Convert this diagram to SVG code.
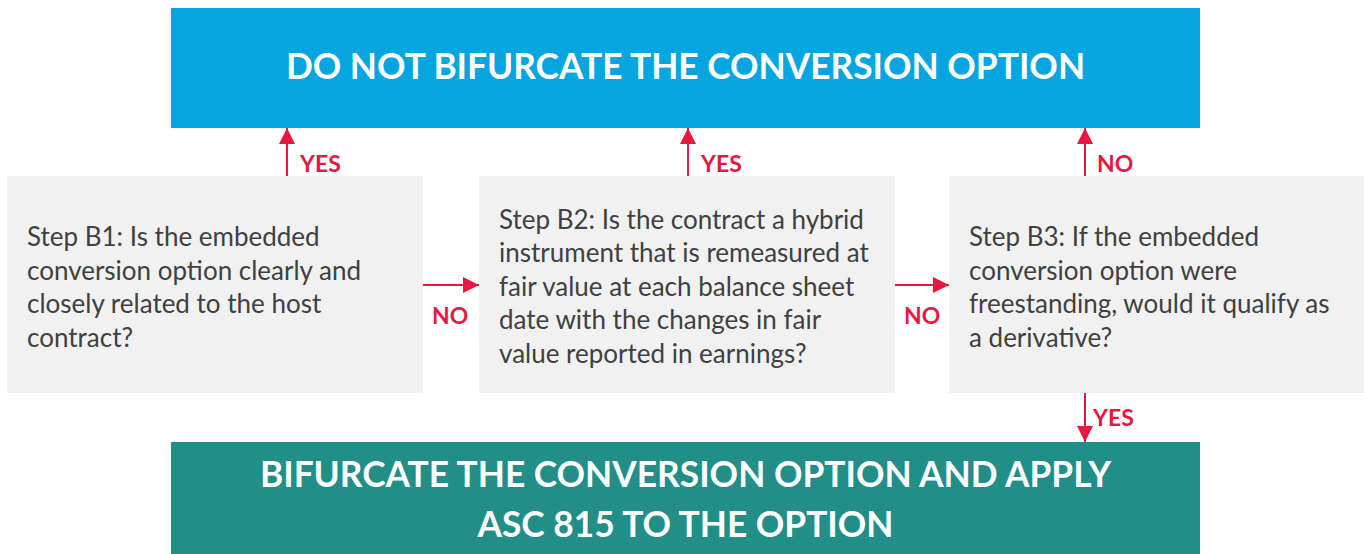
<svg xmlns="http://www.w3.org/2000/svg" width="1364" height="554" viewBox="0 0 1364 554">
<defs>
<style>
.step{fill:#F1F1F1}
.body{font-family:Lato,"Open Sans",sans-serif;font-size:26px;fill:#404040}
.head{font-family:Lato,"Open Sans",sans-serif;font-weight:bold;font-size:35.3px;fill:#FFFFFF;text-anchor:middle}
.lbl{font-family:Lato,"Open Sans",sans-serif;font-weight:bold;font-size:23px;fill:#E8173F}
.conn{stroke:#E8173F;stroke-width:2;fill:none}
</style>
<marker id="ah" viewBox="0 0 16 16" refX="16" refY="8" markerWidth="16" markerHeight="16" markerUnits="userSpaceOnUse" orient="auto">
<path d="M0,0 L16,8 L0,16 Z" fill="#E8173F"/>
</marker>
</defs>
<rect width="1364" height="554" fill="#FFFFFF"/>
<g id="top">
<rect x="171" y="8" width="1029" height="120" fill="#05A5E0"/>
<text class="head" x="685.5" y="79">DO NOT BIFURCATE THE CONVERSION OPTION</text>
</g>
<g id="bottom">
<rect x="171" y="442" width="1029" height="112" fill="#218E87"/>
<text class="head" x="685.5" y="487">BIFURCATE THE CONVERSION OPTION AND APPLY</text>
<text class="head" x="685.5" y="537">ASC 815 TO THE OPTION</text>
</g>
<g id="b1">
<rect class="step" x="7" y="176" width="416" height="217"/>
<text class="body" x="27" y="246">Step B1: Is the embedded</text>
<text class="body" x="27" y="280">conversion option clearly and</text>
<text class="body" x="27" y="313">closely related to the host</text>
<text class="body" x="27" y="347">contract?</text>
</g>
<g id="b2">
<rect class="step" x="479" y="176" width="416" height="217"/>
<text class="body" x="499" y="229">Step B2: Is the contract a hybrid</text>
<text class="body" x="499" y="262">instrument that is remeasured at</text>
<text class="body" x="499" y="296">fair value at each balance sheet</text>
<text class="body" x="499" y="329">date with the changes in fair</text>
<text class="body" x="499" y="363">value reported in earnings?</text>
</g>
<g id="b3">
<rect class="step" x="949" y="176" width="415" height="217"/>
<text class="body" x="969" y="246">Step B3: If the embedded</text>
<text class="body" x="969" y="280">conversion option were</text>
<text class="body" x="969" y="313">freestanding, would it qualify as</text>
<text class="body" x="969" y="347">a derivative?</text>
</g>
<g id="connectors">
<line class="conn" x1="287" y1="176" x2="287" y2="128" marker-end="url(#ah)"/>
<line class="conn" x1="688" y1="176" x2="688" y2="128" marker-end="url(#ah)"/>
<line class="conn" x1="1085" y1="176" x2="1085" y2="128" marker-end="url(#ah)"/>
<line class="conn" x1="423" y1="285" x2="479" y2="285" marker-end="url(#ah)"/>
<line class="conn" x1="895" y1="285" x2="949" y2="285" marker-end="url(#ah)"/>
<line class="conn" x1="1085" y1="393" x2="1085" y2="442" marker-end="url(#ah)"/>
<text class="lbl" x="300" y="172">YES</text>
<text class="lbl" x="701" y="172">YES</text>
<text class="lbl" x="1097" y="172">NO</text>
<text class="lbl" x="432" y="324">NO</text>
<text class="lbl" x="904" y="324">NO</text>
<text class="lbl" x="1093" y="426">YES</text>
</g>
</svg>
